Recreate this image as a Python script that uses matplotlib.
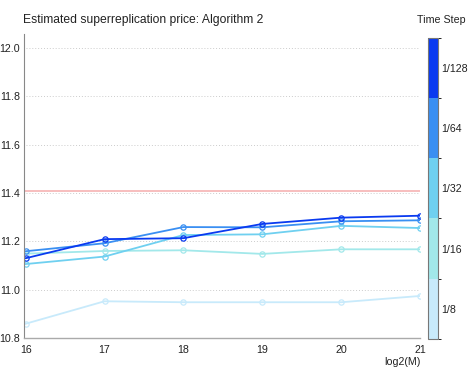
import matplotlib
matplotlib.use("Agg")
import matplotlib.pyplot as plt
import matplotlib.colors as mcolors
import matplotlib.colorbar as mcolorbar
import numpy as np

plt.rcParams['font.family'] = ['Liberation Sans', 'DejaVu Sans']

#====Data====
log2M = [16, 17, 18, 19, 20, 21]
step_labels = ['1/8', '1/16', '1/32', '1/64', '1/128']
step_colors = ['#c8eafb', '#a2e8ea', '#6fd0f0', '#3a8ff2', '#0a3af0']
price_1_8 = [10.859, 10.952, 10.948, 10.948, 10.948, 10.974]
price_1_16 = [11.149, 11.160, 11.163, 11.148, 11.167, 11.167]
price_1_32 = [11.106, 11.137, 11.226, 11.229, 11.264, 11.255]
price_1_64 = [11.159, 11.192, 11.259, 11.258, 11.283, 11.287]
price_1_128 = [11.130, 11.209, 11.213, 11.272, 11.298, 11.306]
ref_price = 11.408
yticks = [10.8, 11.0, 11.2, 11.4, 11.6, 11.8, 12.0]

series = [price_1_8, price_1_16, price_1_32, price_1_64, price_1_128]

#====Figure====
fig = plt.figure(figsize=(4.71, 3.77), dpi=100)
ax = fig.add_axes([0.051, 0.1034, 0.841, 0.8066])

for yv in yticks:
    ax.plot([16, 21], [yv, yv], color='#cccccc', lw=0.7, ls=(0, (1, 2)), zorder=0)

ax.axhline(ref_price, color='#f4a0a0', lw=1.2, alpha=0.8, zorder=1)

for vals, c in zip(series, step_colors):
    ax.plot(log2M, vals, color=c, lw=1.3, marker='o', ms=3.8, mfc='none',
            mec=c, mew=0.9, zorder=2)

ax.set_xlim(15.98, 21.0)
ax.set_ylim(10.8, 12.058)
ax.set_xticks(log2M)
ax.set_yticks(yticks)
ax.set_yticklabels(['%.1f' % v for v in yticks])
ax.tick_params(length=0, labelsize=7.7, colors='#222222', pad=3)
ax.tick_params(axis='x', pad=5)
for s in ['top', 'right']:
    ax.spines[s].set_visible(False)
ax.spines['left'].set_color('#888888')
ax.spines['bottom'].set_color('#aaaaaa')
ax.spines['left'].set_linewidth(0.8)
ax.spines['bottom'].set_linewidth(1.0)

ax.set_xlabel('log2(M)', fontsize=7.7, color='#222222', ha='right', va='center')
ax.xaxis.set_label_coords(1.0, -0.078)

fig.text(0.049, 0.946, 'Estimated superreplication price: Algorithm 2',
         fontsize=8.7, color='#222222', ha='left', va='center')

#====Colorbar====
cax = fig.add_axes([0.9087, 0.1008, 0.0202, 0.7997])
cmap = mcolors.ListedColormap(step_colors)
norm = mcolors.BoundaryNorm(np.arange(6), cmap.N)
cb = mcolorbar.ColorbarBase(cax, cmap=cmap, norm=norm,
                            ticks=np.arange(5) + 0.5)
cb.set_ticklabels(step_labels)
cb.ax.tick_params(length=0, labelsize=7.7, colors='#222222', pad=3)
cb.outline.set_edgecolor('#777777')
cb.outline.set_linewidth(0.8)
fig.text(0.938, 0.946, 'Time Step', fontsize=7.7, color='#222222',
         ha='center', va='center')

fig.savefig('out.png', dpi=100)
